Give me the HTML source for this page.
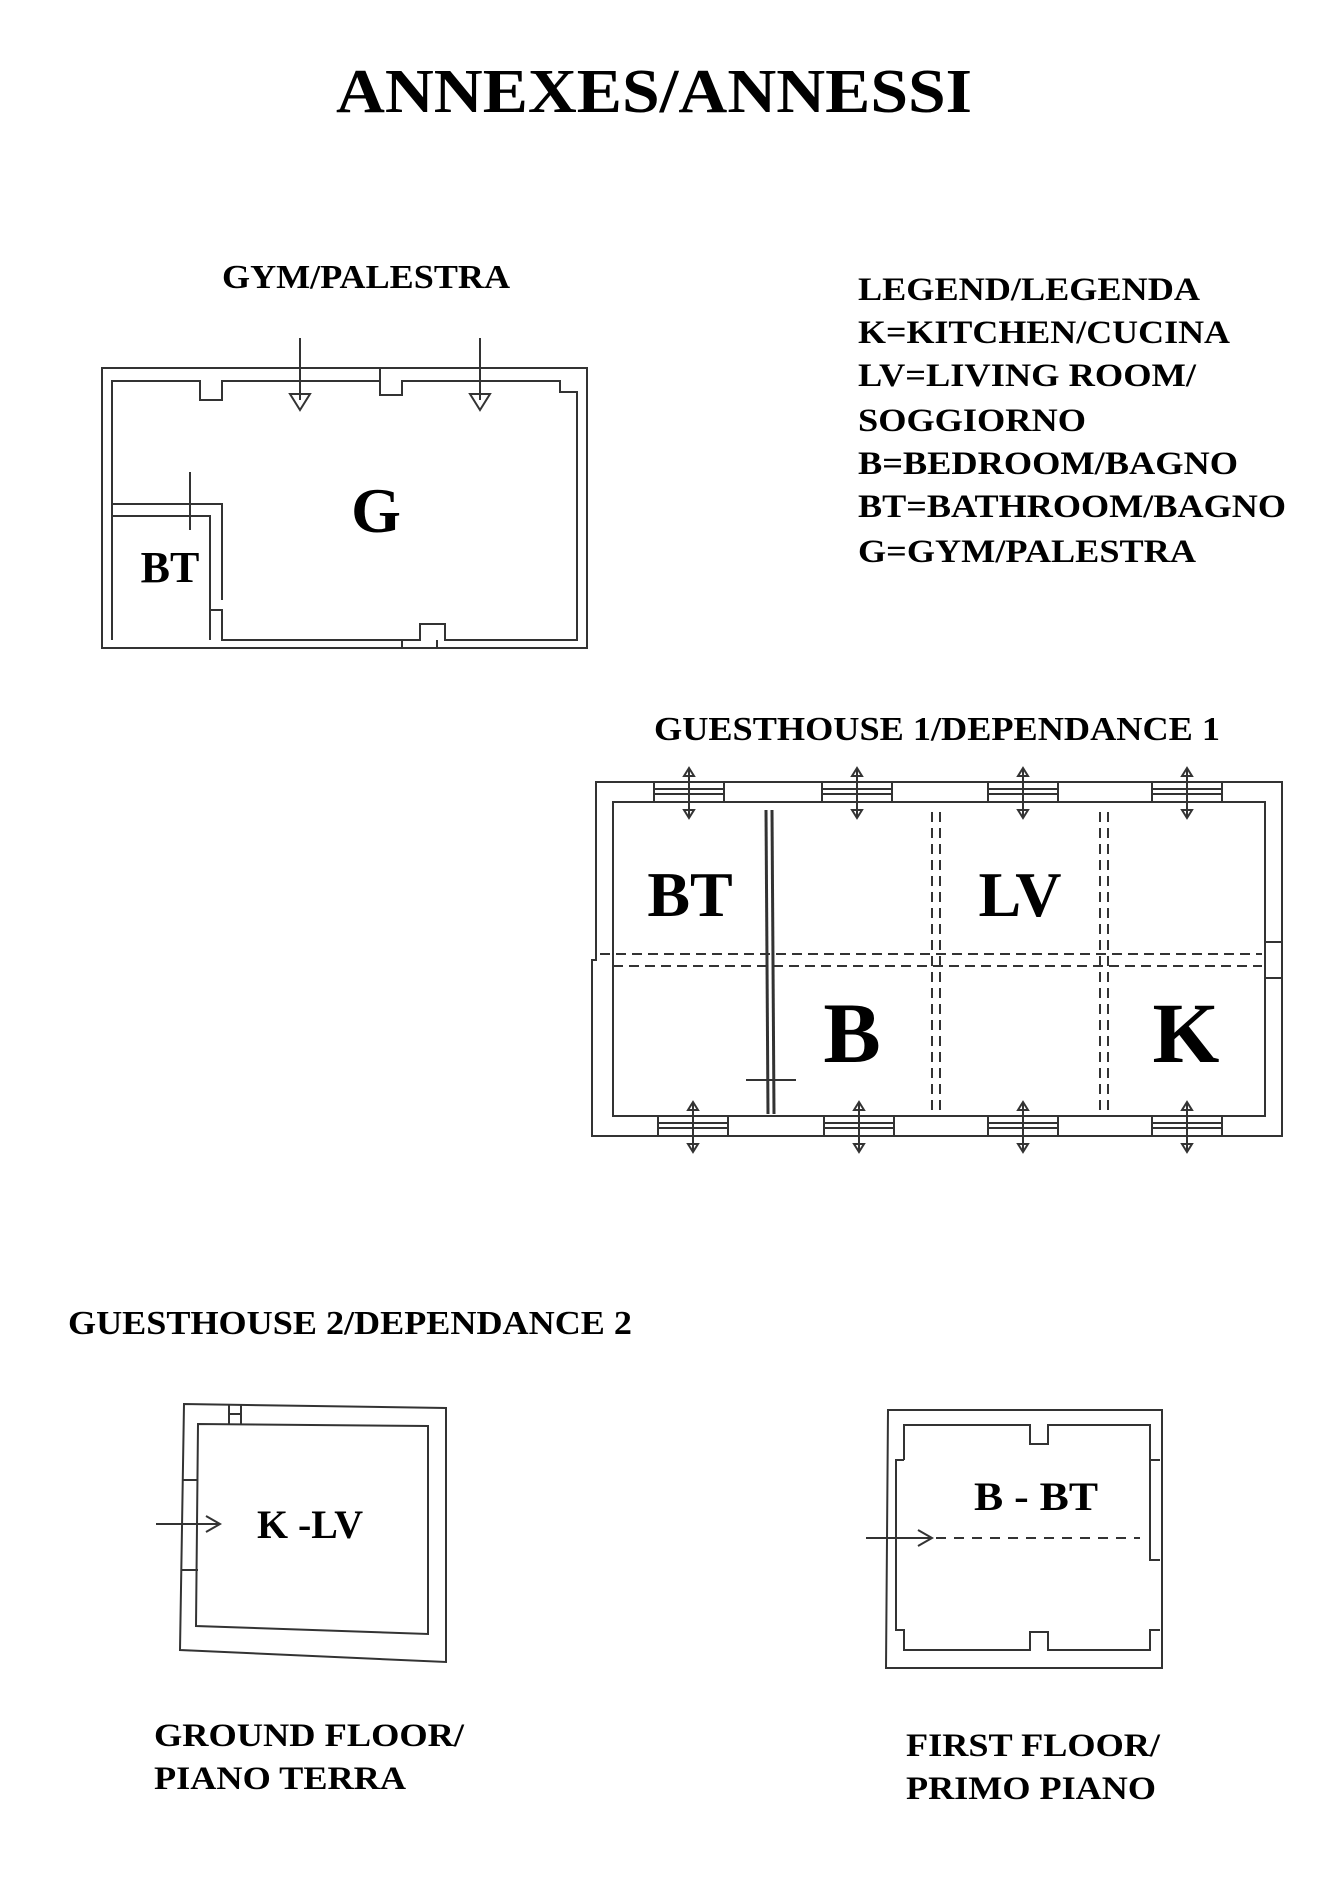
<!DOCTYPE html>
<html><head><meta charset="utf-8"><style>
html,body{margin:0;padding:0;background:#fff;}
svg{display:block;}
text{font-family:"Liberation Serif",serif;font-weight:bold;fill:#000;}
</style></head><body>
<svg width="1330" height="1898" viewBox="0 0 1330 1898" xmlns="http://www.w3.org/2000/svg">
<defs>
<g id="w1" fill="none" stroke="#333" stroke-width="2">
<rect x="0" y="0" width="70" height="20"/>
<line x1="0" y1="7" x2="70" y2="7"/><line x1="0" y1="12" x2="70" y2="12"/>
<line x1="35" y1="-12" x2="35" y2="34"/>
<path d="M30 -6 L35 -14 L40 -6 Z M30 28 L35 36 L40 28 Z"/>
</g>
</defs>
<text x="336" y="112" font-size="62" textLength="636" lengthAdjust="spacingAndGlyphs">ANNEXES/ANNESSI</text>
<text x="222" y="288" font-size="34" textLength="288" lengthAdjust="spacingAndGlyphs">GYM/PALESTRA</text>
<g font-size="33">
<text x="858" y="300" textLength="342" lengthAdjust="spacingAndGlyphs">LEGEND/LEGENDA</text>
<text x="858" y="343" textLength="372" lengthAdjust="spacingAndGlyphs">K=KITCHEN/CUCINA</text>
<text x="858" y="386" textLength="338" lengthAdjust="spacingAndGlyphs">LV=LIVING ROOM/</text>
<text x="858" y="431" textLength="228" lengthAdjust="spacingAndGlyphs">SOGGIORNO</text>
<text x="858" y="474" textLength="380" lengthAdjust="spacingAndGlyphs">B=BEDROOM/BAGNO</text>
<text x="858" y="517" textLength="428" lengthAdjust="spacingAndGlyphs">BT=BATHROOM/BAGNO</text>
<text x="858" y="562" textLength="338" lengthAdjust="spacingAndGlyphs">G=GYM/PALESTRA</text>
</g>
<!-- GYM -->
<g fill="none" stroke="#333" stroke-width="2">
<rect x="102" y="368" width="485" height="280"/>
<path d="M112 640 V381 H200 V400 H222 V381 H380 V368 M380 381 V395 H402 V381 H560 V392 H577 V640 H445 V624 H420 V640 H222 V610 H210 V640"/>
<path d="M112 640 V504 H222 V600"/>
<path d="M112 516 H210 V640"/>
<path d="M402 640 V648 M437 640 V648"/>
<line x1="300" y1="338" x2="300" y2="400"/>
<path d="M290 394 L300 410 L310 394 Z"/>
<line x1="480" y1="338" x2="480" y2="400"/>
<path d="M470 394 L480 410 L490 394 Z"/>
<line x1="190" y1="472" x2="190" y2="530"/>
</g>
<text x="376" y="532" font-size="64" text-anchor="middle">G</text>
<text x="170" y="582" font-size="44" text-anchor="middle">BT</text>
<!-- GUESTHOUSE 1 -->
<text x="654" y="740" font-size="34" textLength="566" lengthAdjust="spacingAndGlyphs">GUESTHOUSE 1/DEPENDANCE 1</text>
<g fill="none" stroke="#333" stroke-width="2">
<path d="M596 782 H1282 V1136 H592 V960 H596 Z"/>
<rect x="613" y="802" width="652" height="314"/>
<g stroke-dasharray="10 6">
<line x1="600" y1="954" x2="1262" y2="954"/>
<line x1="613" y1="966" x2="1262" y2="966"/>
<line x1="932" y1="812" x2="932" y2="1112"/>
<line x1="940" y1="812" x2="940" y2="1112"/>
<line x1="1100" y1="812" x2="1100" y2="1112"/>
<line x1="1108" y1="812" x2="1108" y2="1112"/>
</g>
<line x1="766" y1="810" x2="768" y2="1114" stroke-width="3"/>
<line x1="772" y1="810" x2="774" y2="1114" stroke-width="3"/>
<line x1="746" y1="1080" x2="796" y2="1080"/>
<rect x="1265" y="942" width="17" height="36"/>
</g>
<use href="#w1" x="654" y="782"/>
<use href="#w1" x="822" y="782"/>
<use href="#w1" x="988" y="782"/>
<use href="#w1" x="1152" y="782"/>
<use href="#w1" x="658" y="1116"/>
<use href="#w1" x="824" y="1116"/>
<use href="#w1" x="988" y="1116"/>
<use href="#w1" x="1152" y="1116"/>
<text x="690" y="916" font-size="64" text-anchor="middle">BT</text>
<text x="1020" y="916" font-size="64" text-anchor="middle">LV</text>
<text x="852" y="1062" font-size="86" text-anchor="middle">B</text>
<text x="1186" y="1062" font-size="86" text-anchor="middle">K</text>
<!-- GUESTHOUSE 2 -->
<text x="68" y="1334" font-size="34" textLength="564" lengthAdjust="spacingAndGlyphs">GUESTHOUSE 2/DEPENDANCE 2</text>
<g fill="none" stroke="#333" stroke-width="2">
<path d="M184 1404 L446 1408 L446 1662 L180 1650 Z"/>
<path d="M198 1424 L428 1426 L428 1634 L196 1626 Z"/>
<path d="M229 1404 V1424 M241 1404 V1424 M229 1414 H241"/>
<line x1="182" y1="1480" x2="198" y2="1480"/><line x1="182" y1="1570" x2="198" y2="1570"/>
<line x1="156" y1="1524" x2="218" y2="1524"/>
<path d="M206 1516 L220 1524 L206 1532"/>
<path d="M888 1410 H1162 V1668 H886 Z"/>
<path d="M904 1460 V1425 H1030 V1444 H1048 V1425 H1150 V1460 H1160 M904 1460 H896 V1630 H904 V1650 H1030 V1632 H1048 V1650 H1150 V1630 H1160 M1150 1460 V1560 H1160"/>
<line x1="866" y1="1538" x2="930" y2="1538"/>
<path d="M918 1530 L932 1538 L918 1546"/>
<line x1="936" y1="1538" x2="1140" y2="1538" stroke-dasharray="10 8"/>
</g>
<text x="310" y="1538" font-size="40" text-anchor="middle" textLength="106" lengthAdjust="spacingAndGlyphs">K -LV</text>
<text x="1036" y="1510" font-size="40" text-anchor="middle" textLength="124" lengthAdjust="spacingAndGlyphs">B - BT</text>
<g font-size="33">
<text x="154" y="1746" textLength="310" lengthAdjust="spacingAndGlyphs">GROUND FLOOR/</text>
<text x="154" y="1789" textLength="252" lengthAdjust="spacingAndGlyphs">PIANO TERRA</text>
<text x="906" y="1756" textLength="254" lengthAdjust="spacingAndGlyphs">FIRST FLOOR/</text>
<text x="906" y="1799" textLength="250" lengthAdjust="spacingAndGlyphs">PRIMO PIANO</text>
</g>
</svg>
</body></html>
